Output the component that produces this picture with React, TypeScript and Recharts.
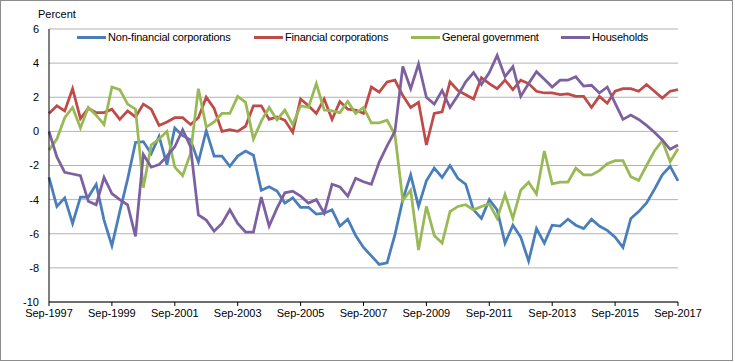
import React from 'react';
import { LineChart, Line, XAxis, YAxis, CartesianGrid } from 'recharts';

// quarterly, Sep-1997 .. Sep-2017
const QUARTER_MONTHS = ['Sep', 'Dec', 'Mar', 'Jun'];
const FIRST_YEAR = 1997;
const QUARTER_COUNT = 81;
const categories = Array.from({ length: QUARTER_COUNT }, (_, i) =>
  `${QUARTER_MONTHS[i % 4]}-${FIRST_YEAR + Math.floor((i + 2) / 4)}`
);

const yTicks = [-10, -8, -6, -4, -2, 0, 2, 4, 6];

const nonFinancial = [
  -2.7, -4.4, -3.9, -5.4, -3.85, -3.85, -3.1, -5.2, -6.7, -4.7,
  -2.8, -0.65, -0.6, -1.3, -0.3, -1.95, 0.2, -0.25, -0.5, -1.8,
  0.05, -1.45, -1.45, -2.05, -1.45, -1.15, -1.4, -3.45, -3.25, -3.5,
  -4.2, -3.9, -4.45, -4.45, -4.85, -4.8, -4.6, -5.55, -5.15, -6.1,
  -6.8, -7.3, -7.8, -7.7, -6.05, -4.0, -2.55, -4.4, -2.9, -2.15,
  -2.7, -2.0, -2.75, -3.1, -4.6, -5.1, -4.0, -4.6, -6.55, -5.5,
  -6.2, -7.6, -5.7, -6.55, -5.5, -5.55, -5.15, -5.5, -5.7, -5.15,
  -5.55, -5.8, -6.2, -6.8, -5.1, -4.7, -4.2, -3.4, -2.55, -2.05,
  -2.9,
];

const financial = [
  1.05, 1.5, 1.2, 2.5, 0.75, 1.35, 1.1, 1.1, 1.3, 0.7,
  1.2, 0.85, 1.6, 1.3, 0.35, 0.55, 0.8, 0.8, 0.4, 0.8,
  2.0, 1.35, 0.0, 0.1, 0.0, 0.3, 1.5, 1.5, 0.7, 0.85,
  0.65, -0.05, 1.9, 1.5, 1.05, 1.9, 0.7, 1.75, 1.3, 1.25,
  1.05, 2.6, 2.3, 2.9, 3.0, 2.1, 1.4, 1.7, -0.8, 1.05,
  1.15, 2.9, 2.4, 2.15, 1.9, 3.15, 2.8, 2.5, 3.0, 2.45,
  3.0, 2.8, 2.35, 2.25, 2.25, 2.15, 2.2, 2.05, 2.05, 1.4,
  2.05, 1.65, 2.35, 2.5, 2.5, 2.35, 2.75, 2.35, 1.95, 2.35,
  2.45,
];

const generalGov = [
  -1.1, -0.45, 0.8, 1.4, 0.2, 1.4, 0.95, 0.4, 2.6, 2.45,
  1.6, 1.3, -3.3, -0.8, -0.45, 0.0, -2.1, -2.6, -1.3, 2.5,
  0.25, 0.55, 1.05, 1.05, 2.05, 1.7, -0.45, 0.6, 1.4, 0.67,
  1.25, 0.4, 1.5, 1.4, 2.8, 1.25, 1.2, 1.1, 1.75, 1.05,
  1.4, 0.5, 0.5, 0.65, -0.2, -4.05, -3.45, -6.95, -4.4, -6.1,
  -6.55, -4.7, -4.4, -4.3, -4.6, -4.4, -4.25, -5.1, -3.7, -5.1,
  -3.45, -2.98, -3.67, -1.15, -3.08, -2.98, -2.98, -2.16, -2.55, -2.55,
  -2.3, -1.9, -1.72, -1.72, -2.66, -2.87, -2.0, -1.15, -0.55, -1.77,
  -1.02,
];

const households = [
  0.0, -1.5, -2.4, -2.5, -2.6, -4.1, -4.3, -2.7, -3.65, -4.0,
  -4.3, -6.15, -1.35, -2.1, -1.95, -1.45, -0.9, 0.1, -0.9, -4.9,
  -5.2, -5.85, -5.4, -4.6, -5.4, -5.9, -5.9, -3.85, -5.55, -4.5,
  -3.6, -3.5, -3.8, -4.2, -4.0, -4.8, -3.1, -3.25, -3.8, -2.75,
  -2.95, -3.1, -1.8, -0.85, 0.0, 3.8, 2.5, 3.95, 2.0, 1.6,
  2.4, 1.4, 2.1, 2.9, 3.45, 2.75, 3.45, 4.45, 3.2, 3.8,
  2.05, 2.8, 3.5, 3.05, 2.6, 3.0, 3.0, 3.2, 2.65, 2.7,
  2.25, 2.6, 1.65, 0.7, 0.95, 0.7, 0.35, -0.05, -0.5, -1.05,
  -0.8,
];

const SERIES = [
  { key: 'nonFinancial', name: 'Non-financial corporations', color: '#4a7ebb', legendX: 77 },
  { key: 'financial', name: 'Financial corporations', color: '#be4b48', legendX: 254 },
  { key: 'generalGov', name: 'General government', color: '#98b954', legendX: 411 },
  { key: 'households', name: 'Households', color: '#7d60a0', legendX: 561 },
];

const data = categories.map((quarter, i) => ({
  quarter,
  nonFinancial: nonFinancial[i],
  financial: financial[i],
  generalGov: generalGov[i],
  households: households[i],
}));

const FONT = '"Liberation Sans", Arial, sans-serif';
const tickStyle = { fill: '#000', fontSize: 11, fontFamily: FONT };

export default function App() {
  return (
    <div style={{ position: 'relative', width: 735, height: 362, fontFamily: FONT }}>
      <style>{'body{margin:0;}'}</style>
      <div
        style={{
          position: 'absolute', left: 0, top: 0, width: 731, height: 359,
          border: '1px solid #8c8c8c', pointerEvents: 'none',
        }}
      />
      <div style={{ position: 'absolute', left: 38, top: 8, fontSize: 11, color: '#000' }}>
        Percent
      </div>

      <LineChart
        width={735}
        height={362}
        data={data}
        margin={{ top: 29, right: 57, left: 0, bottom: 30 }}
      >
        <CartesianGrid vertical={false} stroke="#b3b3b3" strokeWidth={1} />
        <XAxis
          dataKey="quarter"
          interval={7}
          padding={{ left: 0, right: 0 }}
          height={30}
          tickSize={4}
          tickMargin={3}
          stroke="#000"
          tick={tickStyle}
        />
        <YAxis
          width={49}
          domain={[-10, 6]}
          ticks={yTicks}
          interval={0}
          tickSize={0}
          tickMargin={10}
          stroke="#000"
          tick={tickStyle}
        />
        {SERIES.map((s) => (
          <Line
            key={s.key}
            dataKey={s.key}
            name={s.name}
            stroke={s.color}
            strokeWidth={2.75}
            dot={false}
            activeDot={false}
            isAnimationActive={false}
          />
        ))}
      </LineChart>

      {/* legend sits inside the plot, along the top */}
      {SERIES.map((s) => (
        <div
          key={s.key}
          style={{
            position: 'absolute', left: s.legendX, top: 30, height: 14,
            display: 'flex', alignItems: 'center', fontSize: 11, color: '#000',
            whiteSpace: 'nowrap', letterSpacing: -0.2,
          }}
        >
          <span style={{ display: 'inline-block', width: 29, height: 3, background: s.color, marginRight: 2 }} />
          {s.name}
        </div>
      ))}
    </div>
  );
}
